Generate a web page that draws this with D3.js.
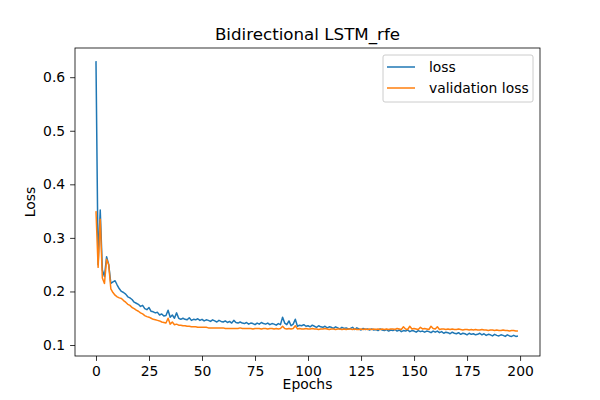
<!DOCTYPE html>
<html><head><meta charset="utf-8">
<script src="https://cdn.jsdelivr.net/npm/d3@7"></script>
<style>body{margin:0;background:#fff}text{font-family:"DejaVu Sans",sans-serif}</style>
</head><body><svg id="c" width="600" height="400"></svg>
<script>
const loss = [
.630,.250,.352,.240,.228,.265,.250,.215,.218,.220,
.212,.205,.200,.198,.195,.190,.188,.185,.180,.178,
.176,.172,.174,.168,.166,.170,.163,.162,.160,.161,
.156,.158,.154,.155,.165,.152,.156,.150,.160,.150,
.148,.150,.148,.147,.151,.146,.148,.147,.149,.146,
.148,.145,.147,.146,.144,.147,.145,.143,.146,.144,
.143,.145,.142,.144,.141,.146,.142,.141,.143,.141,
.140,.142,.139,.141,.140,.138,.141,.139,.142,.140,
.139,.141,.138,.140,.139,.137,.140,.138,.152,.141,
.138,.145,.136,.139,.148,.135,.137,.136,.138,.135,
.136,.134,.137,.135,.133,.136,.134,.133,.135,.132,
.134,.133,.131,.134,.132,.130,.133,.131,.132,.130,
.131,.133,.129,.132,.130,.128,.131,.129,.130,.128,
.130,.128,.129,.127,.130,.128,.127,.129,.126,.128,
.127,.129,.126,.128,.125,.127,.126,.128,.125,.127,
.126,.124,.127,.125,.126,.124,.126,.125,.123,.126,
.124,.126,.123,.125,.122,.124,.123,.121,.124,.122,
.121,.123,.120,.122,.121,.119,.122,.120,.121,.119,
.120,.122,.119,.121,.118,.120,.119,.117,.120,.118,
.117,.119,.118,.116,.119,.117,.116,.118,.116,.117];
const valLoss = [
.350,.245,.335,.225,.215,.260,.250,.205,.198,.193,
.190,.188,.187,.183,.180,.176,.174,.170,.168,.165,
.163,.160,.158,.155,.153,.152,.150,.148,.147,.146,
.145,.143,.142,.141,.150,.139,.143,.138,.139,.137,
.137,.136,.136,.135,.135,.134,.134,.134,.133,.133,
.133,.133,.133,.132,.132,.132,.132,.132,.132,.132,
.132,.131,.131,.131,.131,.131,.131,.131,.132,.131,
.131,.131,.131,.131,.130,.131,.131,.131,.130,.131,
.131,.130,.131,.131,.130,.131,.130,.131,.135,.131,
.130,.131,.130,.131,.136,.130,.131,.130,.130,.131,
.130,.130,.131,.130,.130,.129,.130,.130,.131,.130,
.129,.130,.130,.129,.130,.130,.129,.130,.129,.130,
.130,.129,.130,.129,.129,.130,.129,.130,.129,.130,
.129,.130,.129,.130,.129,.130,.129,.130,.129,.130,
.130,.129,.131,.130,.129,.134,.130,.129,.135,.130,
.131,.130,.129,.133,.130,.131,.130,.129,.135,.131,
.130,.134,.129,.130,.130,.129,.130,.129,.130,.129,
.129,.130,.129,.128,.129,.129,.128,.129,.128,.129,
.128,.128,.129,.128,.128,.127,.128,.128,.127,.128,
.127,.127,.128,.127,.127,.126,.127,.127,.126,.126];
const series = [
  {name: "loss", values: loss, color: "#1f77b4"},
  {name: "validation loss", values: valLoss, color: "#ff7f0e"}
];
const xTicks = [0, 25, 50, 75, 100, 125, 150, 175, 200];
const yTicks = [0.1, 0.2, 0.3, 0.4, 0.5, 0.6];

const m = {l: 75, r: 540, t: 48, b: 356};
const svg = d3.select("#c");
const x = d3.scaleLinear().domain([-9.9, 209.4]).range([m.l, m.r]);
const y = d3.scaleLinear().domain([0.0795, 0.6545]).range([m.b, m.t]);

const xa = svg.append("g").attr("transform", `translate(0,${m.b})`)
  .call(d3.axisBottom(x).tickValues(xTicks).tickSize(4.9).tickPadding(4.9));
const ya = svg.append("g").attr("transform", `translate(${m.l},0)`)
  .call(d3.axisLeft(y).tickValues(yTicks).tickFormat(d3.format(".1f")).tickSize(4.9).tickPadding(4.9));
[xa, ya].forEach(a => {
  a.select(".domain").remove();
  a.selectAll("text").attr("font-size", 13.9).attr("fill", "#000");
  a.selectAll("line").attr("stroke", "#000").attr("stroke-width", 0.8);
});

const line = d3.line().x((d, i) => x(i)).y(d => y(d));
series.forEach(s => {
  svg.append("path").attr("d", line(s.values)).attr("fill", "none")
    .attr("stroke", s.color).attr("stroke-width", 1.5).attr("stroke-linejoin", "round");
});

svg.append("rect").attr("x", m.l).attr("y", m.t).attr("width", m.r - m.l).attr("height", m.b - m.t)
  .attr("fill", "none").attr("stroke", "#000").attr("stroke-width", 0.8);

svg.append("text").attr("x", (m.l + m.r) / 2).attr("y", 40).attr("text-anchor", "middle")
  .attr("font-size", 16.7).text("Bidirectional LSTM_rfe");
svg.append("text").attr("x", (m.l + m.r) / 2).attr("y", 389).attr("text-anchor", "middle")
  .attr("font-size", 13.9).text("Epochs");
svg.append("text").attr("transform", `translate(35,${(m.t + m.b) / 2}) rotate(-90)`)
  .attr("text-anchor", "middle").attr("font-size", 13.9).text("Loss");

const lg = svg.append("g").attr("transform", "translate(383,55)");
lg.append("rect").attr("width", 150).attr("height", 47).attr("rx", 2)
  .attr("fill", "#fff").attr("fill-opacity", 0.8).attr("stroke", "#ccc");
series.forEach((s, i) => {
  const yy = 12 + i * 21;
  lg.append("line").attr("x1", 4).attr("x2", 32).attr("y1", yy).attr("y2", yy)
    .attr("stroke", s.color).attr("stroke-width", 1.5);
  lg.append("text").attr("x", 46).attr("y", yy + 5).attr("font-size", 13.9).text(s.name);
});
</script></body></html>
